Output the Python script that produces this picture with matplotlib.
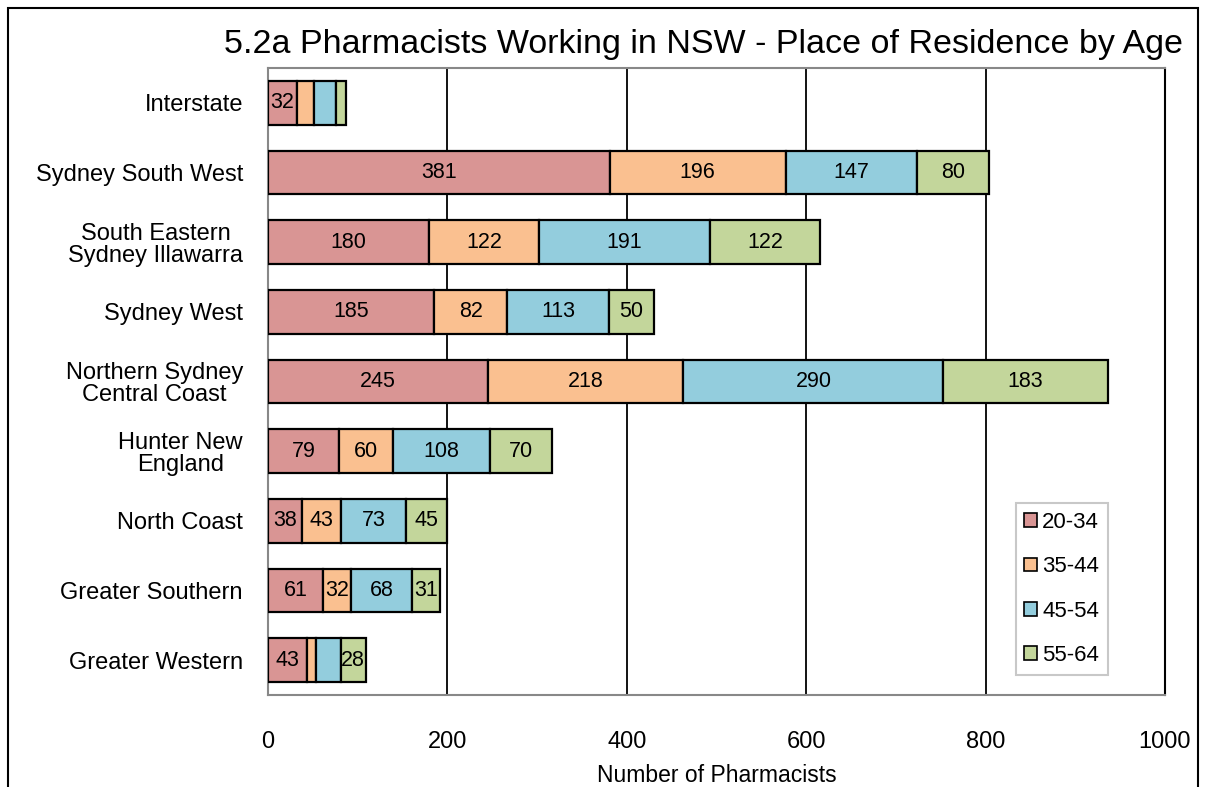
import matplotlib.pyplot as plt
from matplotlib.patches import Rectangle
import numpy as np

plt.rcParams['font.family'] = ['Liberation Sans', 'DejaVu Sans']

regions = ["Interstate", "Sydney South West", "South Eastern\nSydney Illawarra",
           "Sydney West", "Northern Sydney\nCentral Coast", "Hunter New\nEngland",
           "North Coast", "Greater Southern", "Greater Western"]
age_groups = ["20-34", "35-44", "45-54", "55-64"]
age_20_34 = [32, 381, 180, 185, 245, 79, 38, 61, 43]
age_35_44 = [19, 196, 122, 82, 218, 60, 43, 32, 10]
age_45_54 = [25, 147, 191, 113, 290, 108, 73, 68, 28]
age_55_64 = [11, 80, 122, 50, 183, 70, 45, 31, 28]
colors = ["#D99594", "#FAC090", "#93CDDD", "#C3D69B"]

series = [age_20_34, age_35_44, age_45_54, age_55_64]
# segments whose value label is not printed in the original
hidden = {1: [0, 8], 2: [0, 8], 3: [0]}

fig = plt.figure(figsize=(12.06, 7.87), dpi=100)
ax = fig.add_axes([268/1206, 1 - 695/787, (1165 - 268)/1206, (695 - 68)/787])

y = np.arange(len(regions))
left = np.zeros(len(regions))
for i, (vals, col, lab) in enumerate(zip(series, colors, age_groups)):
    bars = ax.barh(y, vals, left=left, height=0.63, color=col, edgecolor="black",
                   linewidth=1.6, label=lab, zorder=3)
    texts = ["" if j in hidden.get(i, []) else str(v) for j, v in enumerate(vals)]
    ax.bar_label(bars, labels=texts, label_type="center", fontsize=15.5)
    left += np.array(vals)

ax.set_xlim(0, 1000)
ax.set_xticks(range(0, 1001, 200))
ax.set_ylim(len(regions) - 0.5, -0.5)
ax.set_yticks(y)
ax.set_yticklabels(regions, fontsize=17, ha="right", multialignment="center")
for t in ax.get_yticklabels():
    t.set_linespacing(1.0)
ax.tick_params(axis="y", length=0, pad=18)
ax.tick_params(axis="x", length=0, labelsize=17, pad=26)
ax.grid(axis="x", color="black", linewidth=1.3, zorder=0)
for s in ax.spines.values():
    s.set_color("#888888")
    s.set_linewidth(1.5)
ax.spines["right"].set_color("black")
ax.set_xlabel("Number of Pharmacists", fontsize=16.5, labelpad=8)

leg = ax.legend(loc="lower right", bbox_to_anchor=(0.9365, 0.032), borderaxespad=0,
                fontsize=16, frameon=True, fancybox=False, edgecolor="#BBBBBB",
                handlelength=0.55, handleheight=0.55, handletextpad=0.25,
                labelspacing=1.05, borderpad=0.4)
leg.get_frame().set_linewidth(1.5)
for h in leg.legend_handles:
    h.set_linewidth(1.2)

fig.text(704/1206, 1 - 45/787, "5.2a Pharmacists Working in NSW - Place of Residence by Age",
         ha="center", va="center", fontsize=24.5)

fig.patches.append(Rectangle((8/1206, -0.05), 1190/1206, 1.05 - 8/787,
                             transform=fig.transFigure, fill=False,
                             edgecolor="black", linewidth=1.5))

fig.savefig("out.png", dpi=100)
